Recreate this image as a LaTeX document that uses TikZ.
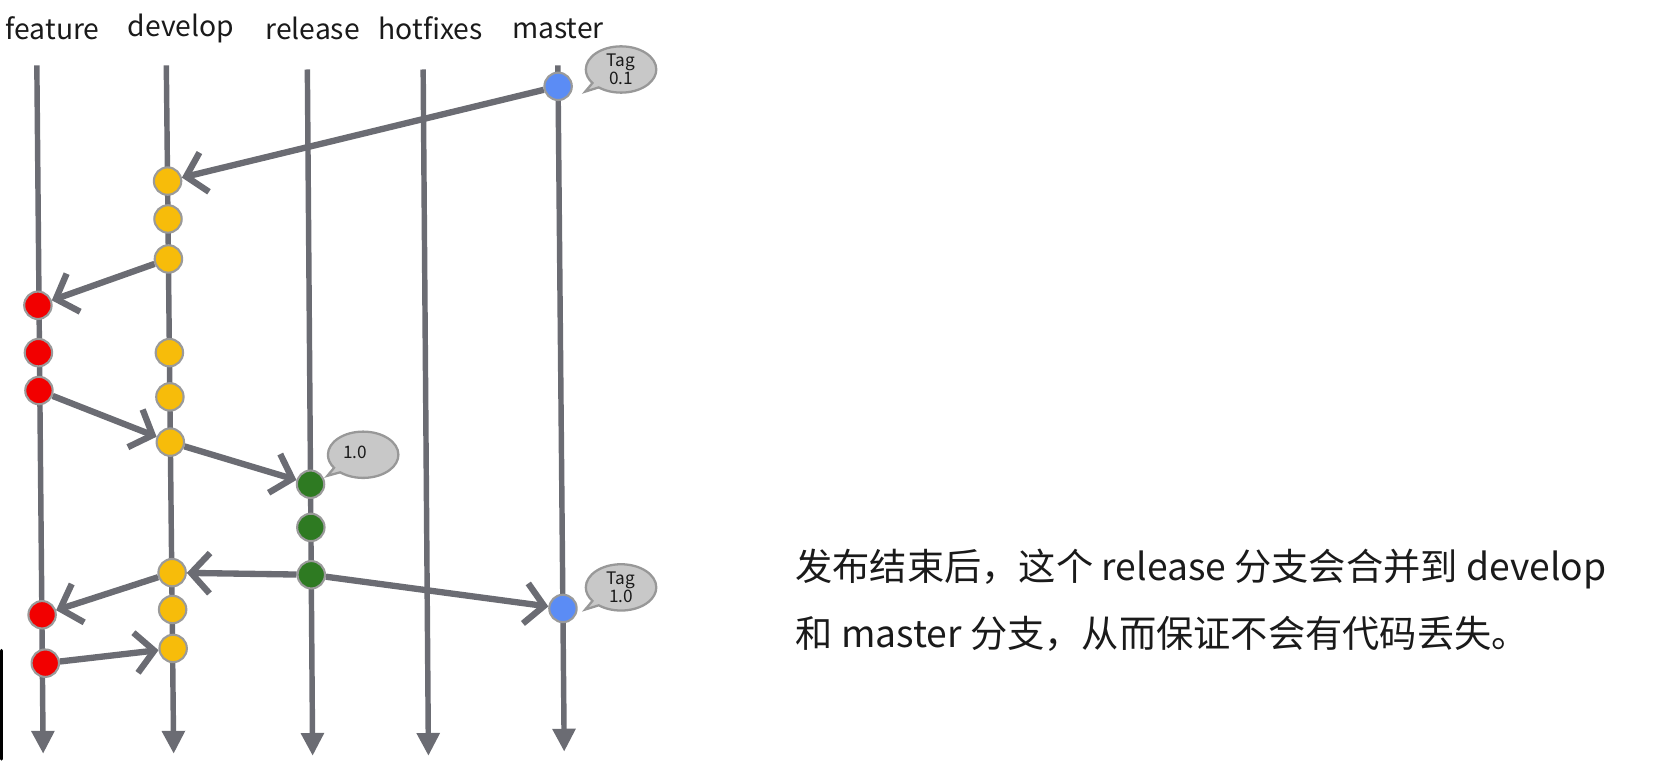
\documentclass[tikz,border=0pt]{standalone}
\usepackage{fontspec}
\setmainfont{Noto Sans CJK SC}
\usetikzlibrary{arrows.meta,shapes.callouts}
\definecolor{lane}{HTML}{6B6C73}
\definecolor{ring}{HTML}{9A9A9A}
\definecolor{cyellow}{HTML}{F7BC0A}
\definecolor{cred}{HTML}{F20000}
\definecolor{cgreen}{HTML}{2E7A22}
\definecolor{cblue}{HTML}{5B8CF5}
\definecolor{bubble}{HTML}{C8C8C8}
\definecolor{bubbleedge}{HTML}{989898}
\definecolor{txt}{HTML}{1A1A1A}
\begin{document}
\begin{tikzpicture}[x=0.010526cm,y=-0.010526cm,
  lanestyle/.style={draw=lane, line width=1.55pt, -{Triangle[length=6.5pt,width=6.3pt]}},
  merge/.style={draw=lane, line width=1.8pt, -{Straight Barb[length=5.3pt,width=11.5pt]}},
  commit/.style={circle, minimum size=0.274cm, inner sep=0pt, draw=ring, line width=0.6pt},
  fc/.style={commit, fill=cred},
  dc/.style={commit, fill=cyellow},
  rc/.style={commit, fill=cgreen},
  mc/.style={commit, fill=cblue},
  lbl/.style={text=txt, font=\fontsize{8.05pt}{9.6pt}\selectfont, inner sep=0pt},
  tag/.style={ellipse callout, fill=bubble, draw=bubbleedge, line width=0.65pt,
    minimum width=0.705cm, minimum height=0.463cm, inner sep=0pt, align=center,
    text=txt, font=\fontsize{4.9pt}{5.2pt}\selectfont},
  body/.style={text=txt, font=\fontsize{10.6pt}{12.8pt}\selectfont, inner sep=0pt, anchor=base west}
]
\useasboundingbox (0,0) rectangle (1571.3,741);

% branch labels
\node[lbl] (lf) at (50,27) {feature};
\node[lbl] (ld) at (172,27) {develop};
\node[lbl] (lr) at (297,27) {release};
\node[lbl] (lh) at (409,27) {hotfixes};
\node[lbl] (lm) at (530,27) {master};

% lanes
\coordinate (ft) at (35,62);  \coordinate (fb) at (41,716);
\coordinate (dt) at (158,62); \coordinate (db) at (165,716);
\coordinate (rt) at (292,66); \coordinate (rb) at (297,718);
\coordinate (ht) at (402,66); \coordinate (hb) at (407,718);
\coordinate (mt) at (530,62); \coordinate (mb) at (536,714);
\draw[lanestyle] (ft) -- (fb);
\draw[lanestyle] (dt) -- (db);
\draw[lanestyle] (rt) -- (rb);
\draw[lanestyle] (ht) -- (hb);
\draw[lanestyle] (mt) -- (mb);

% commits
\node[mc] (m1) at (530.2,82) {};
\node[dc] (d1) at (159.2,172) {};
\node[dc] (d2) at (159.6,208) {};
\node[dc] (d3) at (160,246) {};
\node[fc] (f1) at (36,290) {};
\node[fc] (f2) at (36.5,335) {};
\node[fc] (f3) at (37,371) {};
\node[dc] (d4) at (160.9,335) {};
\node[dc] (d5) at (161.4,377) {};
\node[dc] (d6) at (161.8,420) {};
\node[rc] (r1) at (295,460) {};
\node[rc] (r2) at (295.3,501) {};
\node[rc] (r3) at (295.7,546) {};
\node[dc] (d7) at (163.5,544) {};
\node[dc] (d8) at (164,579) {};
\node[dc] (d9) at (164.5,616) {};
\node[fc] (f4) at (40,584) {};
\node[fc] (f5) at (43,630) {};
\node[mc] (m2) at (534.8,578) {};

% merges
\draw[merge] (m1) -- (d1);
\draw[merge] (d3) -- (f1);
\draw[merge] (f3) -- (d6);
\draw[merge] (d6) -- (r1);
\draw[merge] (r3) -- (d7);
\draw[merge] (r3) -- (m2);
\draw[merge] (d7) -- (f4);
\draw[merge] (f5) -- (d9);

% tags
\node[tag, callout absolute pointer={(556,87)}] (t1) at (590,66) {Tag\\0.1};
\node[tag, callout absolute pointer={(311,452)}] (t2) at (345,432) {\raisebox{0.6mm}{1.0}\hspace{1.6mm}};
\node[tag, callout absolute pointer={(556,579)}] (t3) at (590,558) {Tag\\1.0};

% description
\node[body] (line1) at (755,551) {发布结束后，这个 release 分支会合并到 develop};
\node[body] (line2) at (755,615) {和 master 分支，从而保证不会有代码丢失。};

% frame edge at left
\draw[black, line width=1pt, line cap=round] (1.5,618) -- (1.5,721);
\end{tikzpicture}
\end{document}
